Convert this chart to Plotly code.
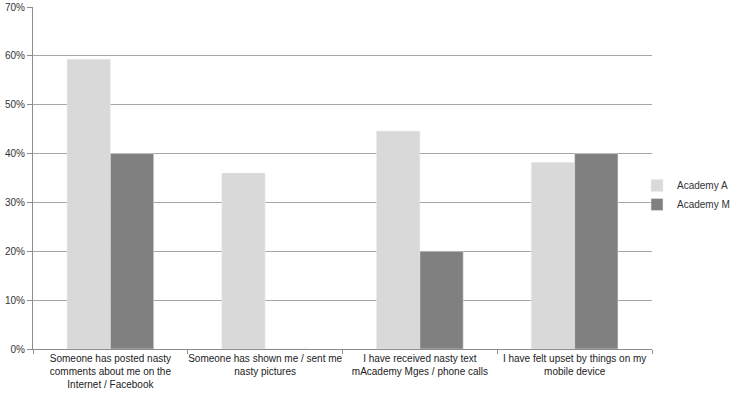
import plotly.graph_objects as go

categories = [
    "Someone has posted nasty<br>comments about me on the<br>Internet / Facebook",
    "Someone has shown me / sent me<br>nasty pictures",
    "I have received nasty text<br>mAcademy Mges / phone calls",
    "I have felt upset by things on my<br>mobile device",
]
academy_a = [0.593, 0.360, 0.446, 0.382]
academy_m = [0.40, 0.0, 0.20, 0.40]
y_ticks = [0, 0.1, 0.2, 0.3, 0.4, 0.5, 0.6, 0.7]
y_tick_labels = ["0%", "10%", "20%", "30%", "40%", "50%", "60%", "70%"]

fig = go.Figure()
fig.add_trace(go.Bar(name="Academy A", x=categories, y=academy_a, marker_color="#d9d9d9"))
fig.add_trace(go.Bar(name="Academy M", x=categories, y=academy_m, marker_color="#808080"))

font = "Liberation Sans, Arial, sans-serif"
fig.update_layout(
    width=733, height=399,
    margin=dict(l=33, r=81, t=7, b=50, autoexpand=False),
    barmode="group",
    bargap=0.44,
    bargroupgap=0,
    plot_bgcolor="white",
    paper_bgcolor="white",
    font=dict(family=font, size=10, color="#333333"),
    legend=dict(xref="container", yref="container", x=637 / 733, y=1 - 195 / 399,
                xanchor="left", yanchor="middle",
                font=dict(size=10), itemwidth=30, tracegroupgap=4,
                bgcolor="rgba(0,0,0,0)"),
    showlegend=True,
)
fig.update_yaxes(
    range=[0, 0.7], tickvals=y_ticks, ticktext=y_tick_labels,
    showgrid=True, gridcolor="#a6a6a6", gridwidth=1,
    showline=True, linecolor="#8c8c8c", linewidth=1,
    ticks="outside", ticklen=5, tickcolor="#8c8c8c",
    zeroline=False, tickfont=dict(size=10, color="#333333"),
    automargin=False,
)
fig.update_xaxes(
    showline=True, linecolor="#8c8c8c", linewidth=1,
    ticks="outside", ticklen=4, tickcolor="#8c8c8c", tickson="boundaries",
    tickfont=dict(size=10, color="#222222"), tickangle=0,
    automargin=False,
)
fig.write_html("out.html", config={"displayModeBar": False},
               post_script="document.body.style.margin='0px';")
